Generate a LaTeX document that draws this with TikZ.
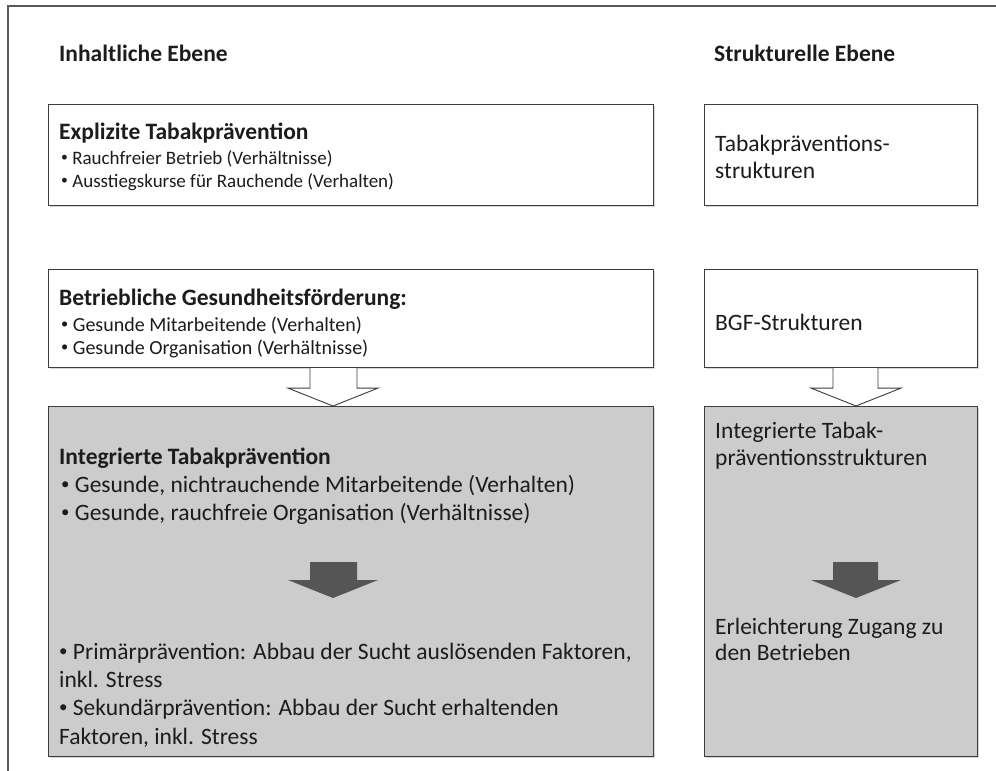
\documentclass[tikz,border=0pt]{standalone}
\usepackage{fontspec}
\setmainfont{Carlito}
\usetikzlibrary{calc,shadows}

\definecolor{boxline}{HTML}{3C3C3C}
\definecolor{framegray}{HTML}{5A5A5A}
\definecolor{panelgray}{HTML}{CCCCCC}
\definecolor{darkarrow}{HTML}{555555}
\definecolor{ink}{HTML}{1C1C1C}

% small raised list bullet
\newcommand{\bulletmark}{\raisebox{0.12em}{\scalebox{0.72}{•}}}

\tikzset{
  panel/.style={draw=boxline, line width=1.1pt, inner sep=0pt, anchor=north west,
    drop shadow={shadow xshift=1.2pt, shadow yshift=-1.6pt, opacity=0.3}},
  whitepanel/.style={panel, fill=white},
  graypanel/.style={panel, fill=panelgray},
  txt/.style={anchor=base west, inner sep=0pt, text=ink, font=\fontsize{23.5}{28}\selectfont},
  txtb/.style={txt, font=\fontsize{23.5}{28}\selectfont\bfseries},
  txtsmall/.style={txt, font=\fontsize{19}{23}\selectfont},
  txtmid/.style={txt, font=\fontsize{20}{24}\selectfont},
  hollowarrow/.style={draw=boxline, line width=0.9pt, fill=white, line join=miter},
  solidarrow/.style={fill=darkarrow},
  framerule/.style={draw=framegray, line width=1.5pt},
}

\begin{document}
\begin{tikzpicture}[x=1pt, y=-1pt]
  % page area
  \fill[white] (0,0) rectangle (996,771);
  \useasboundingbox (0,0) rectangle (996,771);

  % outer frame (top and left rules)
  \draw[framerule] (8,771) -- (8,6) -- (996,6);

  % column headings
  \node[txtb] (h1) at (59,61) {Inhaltliche Ebene};
  \node[txtb] (h2) at (714,61) {Strukturelle Ebene};

  % panels
  \node[whitepanel, minimum width=605pt, minimum height=101pt] (e1) at (48,104) {};
  \node[whitepanel, minimum width=273pt, minimum height=101pt] (s1) at (704,104) {};
  \node[whitepanel, minimum width=605pt, minimum height=98pt] (e2) at (48,269) {};
  \node[whitepanel, minimum width=273pt, minimum height=98pt] (s2) at (704,269) {};
  \node[graypanel, minimum width=605pt, minimum height=350pt] (g1) at (48,406) {};
  \node[graypanel, minimum width=273pt, minimum height=350pt] (g2) at (704,406) {};

  % hollow block arrows between the panels
  \draw[hollowarrow] ($(e2.south west)+(262,0)$) -- ++(0,20) -- ++(-22,0)
    -- ($(g1.north west)+(285,0)$) -- ($(e2.south west)+(330,20)$) -- ++(-21,0) -- ++(0,-20);
  \draw[hollowarrow] ($(s2.south west)+(129,0)$) -- ++(0,20) -- ++(-22,0)
    -- ($(g2.north west)+(152,0)$) -- ($(s2.south west)+(197,20)$) -- ++(-23,0) -- ++(0,-20);

  % solid arrows inside the grey panels
  \fill[solidarrow] (310,562) -- (357,562) -- (357,580) -- (378,580) -- (333,598)
    -- (288,580) -- (310,580) -- cycle;
  \fill[solidarrow] (833,562) -- (878,562) -- (878,580) -- (901,580) -- (856,598)
    -- (811,580) -- (833,580) -- cycle;

  % explicit prevention
  \node[txtb] (e1t) at (59,139) {Explizite Tabakprävention};
  \node[txtsmall] (e1a) at (61,164) {\bulletmark{} Rauchfreier Betrieb (Verhältnisse)};
  \node[txtsmall] (e1b) at (61,187) {\bulletmark{} Ausstiegskurse für Rauchende (Verhalten)};

  \node[txt] (s1a) at (715,151) {Tabakpräventions-};
  \node[txt] (s1b) at (715,178) {strukturen};

  % workplace health promotion
  \node[txtb] (e2t) at (59,305) {Betriebliche Gesundheitsförderung:};
  \node[txtmid] (e2a) at (61,331) {\bulletmark{} Gesunde Mitarbeitende (Verhalten)};
  \node[txtmid] (e2b) at (61,354) {\bulletmark{} Gesunde Organisation (Verhältnisse)};

  \node[txt] (s2a) at (715,330) {BGF-Strukturen};

  % integrated prevention
  \node[txtb] (g1t) at (59,464) {Integrierte Tabakprävention};
  \node[txt] (g1a) at (61,492) {\bulletmark{} Gesunde, nichtrauchende Mitarbeitende (Verhalten)};
  \node[txt] (g1b) at (61,520) {\bulletmark{} Gesunde, rauchfreie Organisation (Verhältnisse)};
  \node[txt] (g1c) at (59,659) {\bulletmark{} Primärprävention: Abbau der Sucht auslösenden Faktoren,};
  \node[txt] (g1d) at (59,687) {inkl. Stress};
  \node[txt] (g1e) at (59,715) {\bulletmark{} Sekundärprävention: Abbau der Sucht erhaltenden};
  \node[txt] (g1f) at (59,744) {Faktoren, inkl. Stress};

  \node[txt] (g2a) at (715,438) {Integrierte Tabak-};
  \node[txt] (g2b) at (715,465) {präventionsstrukturen};
  \node[txt] (g2c) at (715,634) {Erleichterung Zugang zu};
  \node[txt] (g2d) at (715,660) {den Betrieben};
\end{tikzpicture}
\end{document}
